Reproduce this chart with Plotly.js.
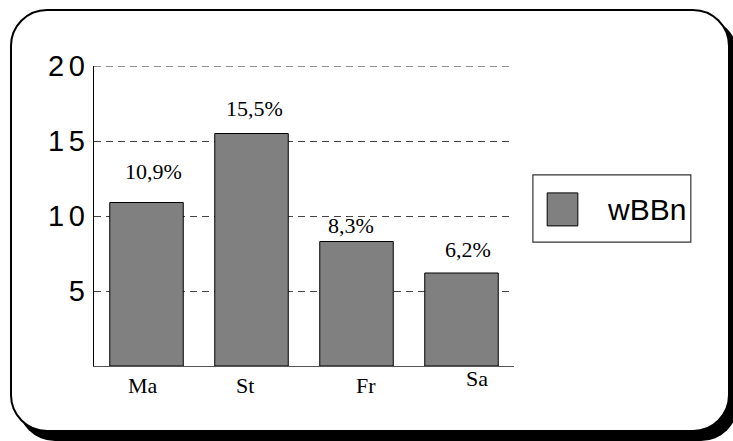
<!DOCTYPE html>
<html>
<head>
<meta charset="utf-8">
<script src="https://cdn.plot.ly/plotly-3.0.1.min.js"></script>
<style>
  html, body { margin: 0; padding: 0; background: #fff; }
  #wrap { position: relative; width: 733px; height: 441px; overflow: hidden; background: #fff; }
  #frame { position: absolute; left: 10px; top: 9px; width: 716px; height: 419px;
           border: 2px solid #000; border-radius: 37px; background: #fff;
           box-shadow: 8px 9px 0 #000; }
  #chart { position: absolute; left: 0; top: 0; width: 733px; height: 441px; }
</style>
</head>
<body>
<div id="wrap">
  <div id="frame"></div>
  <div id="chart"></div>
</div>
<script>
const categories = ["Ma", "St", "Fr", "Sa"];
const values = [10.9, 15.5, 8.3, 6.2];
const seriesName = "wBBn";
const yTicks = [5, 10, 15, 20];
const yMax = 20;

// small per-label offsets (px) to mimic the original placement
const valueShiftX = [7, 3, -6, 6];
const valueShiftY = [31, 25, 16, 24];
const catShiftX = [-4, -7, 9, 15];
const catShiftY = [0, 0, 0, 7];

const valueLabels = values.map(v => v.toFixed(1).replace('.', ',') + '%');

const annotations = [];
categories.forEach((c, i) => {
  annotations.push({
    x: c, y: values[i], xref: 'x', yref: 'y', text: valueLabels[i], showarrow: false,
    xshift: valueShiftX[i], yshift: valueShiftY[i],
    font: { family: 'Liberation Serif, Times New Roman, serif', size: 22, color: '#000' }
  });
  annotations.push({
    x: c, y: 0, xref: 'x', yref: 'y', text: c, showarrow: false,
    yanchor: 'top', xshift: catShiftX[i], yshift: -5 + catShiftY[i],
    font: { family: 'Liberation Serif, Times New Roman, serif', size: 22, color: '#000' }
  });
});
// legend text
annotations.push({
  x: 1.217, y: 0.523, xref: 'paper', yref: 'paper', text: seriesName, showarrow: false,
  xanchor: 'left', yanchor: 'middle',
  font: { family: 'Liberation Sans, Arial, sans-serif', size: 30, color: '#000' }
});

const trace = {
  type: 'bar', x: categories, y: values, name: seriesName,
  marker: { color: '#808080', line: { color: '#000', width: 1 } },
  hoverinfo: 'skip', showlegend: false
};

const layout = {
  width: 733, height: 441,
  margin: { l: 94, r: 219, t: 66, b: 75, pad: 0 },
  paper_bgcolor: 'rgba(0,0,0,0)', plot_bgcolor: 'rgba(0,0,0,0)',
  bargap: 0.3,
  showlegend: false,
  xaxis: {
    type: 'category', showticklabels: false, ticks: '', showgrid: false, zeroline: false,
    showline: true, linecolor: '#555', linewidth: 1.2, range: [-0.5, 3.5]
  },
  yaxis: {
    range: [0, yMax], tickvals: yTicks,
    ticktext: yTicks.map(v => String(v).split('').join('\u2006')),
    tickfont: { family: 'Liberation Sans, Arial, sans-serif', size: 29, color: '#000' },
    ticks: '', ticklabelstandoff: 2,
    showgrid: true, gridcolor: '#444', gridwidth: 1, griddash: '7px,5px',
    zeroline: false, showline: true, linecolor: '#000', linewidth: 1.2
  },
  shapes: [
    // top gridline (Plotly omits the grid line sitting on the range edge)
    { type: 'line', xref: 'paper', yref: 'y', x0: 0, x1: 1, y0: yMax, y1: yMax,
      line: { color: '#222', width: 1.2, dash: '7px,5px' } },
    { type: 'rect', xref: 'paper', yref: 'paper', x0: 1.045, x1: 1.421, y0: 0.413, y1: 0.637,
      line: { color: '#333', width: 1.2 }, fillcolor: 'rgba(0,0,0,0)' },
    { type: 'rect', xref: 'paper', yref: 'paper', x0: 1.079, x1: 1.152, y0: 0.467, y1: 0.577,
      line: { color: '#000', width: 1 }, fillcolor: '#808080' }
  ],
  annotations: annotations
};

Plotly.newPlot('chart', [trace], layout, { displayModeBar: false, staticPlot: true });
</script>
</body>
</html>
